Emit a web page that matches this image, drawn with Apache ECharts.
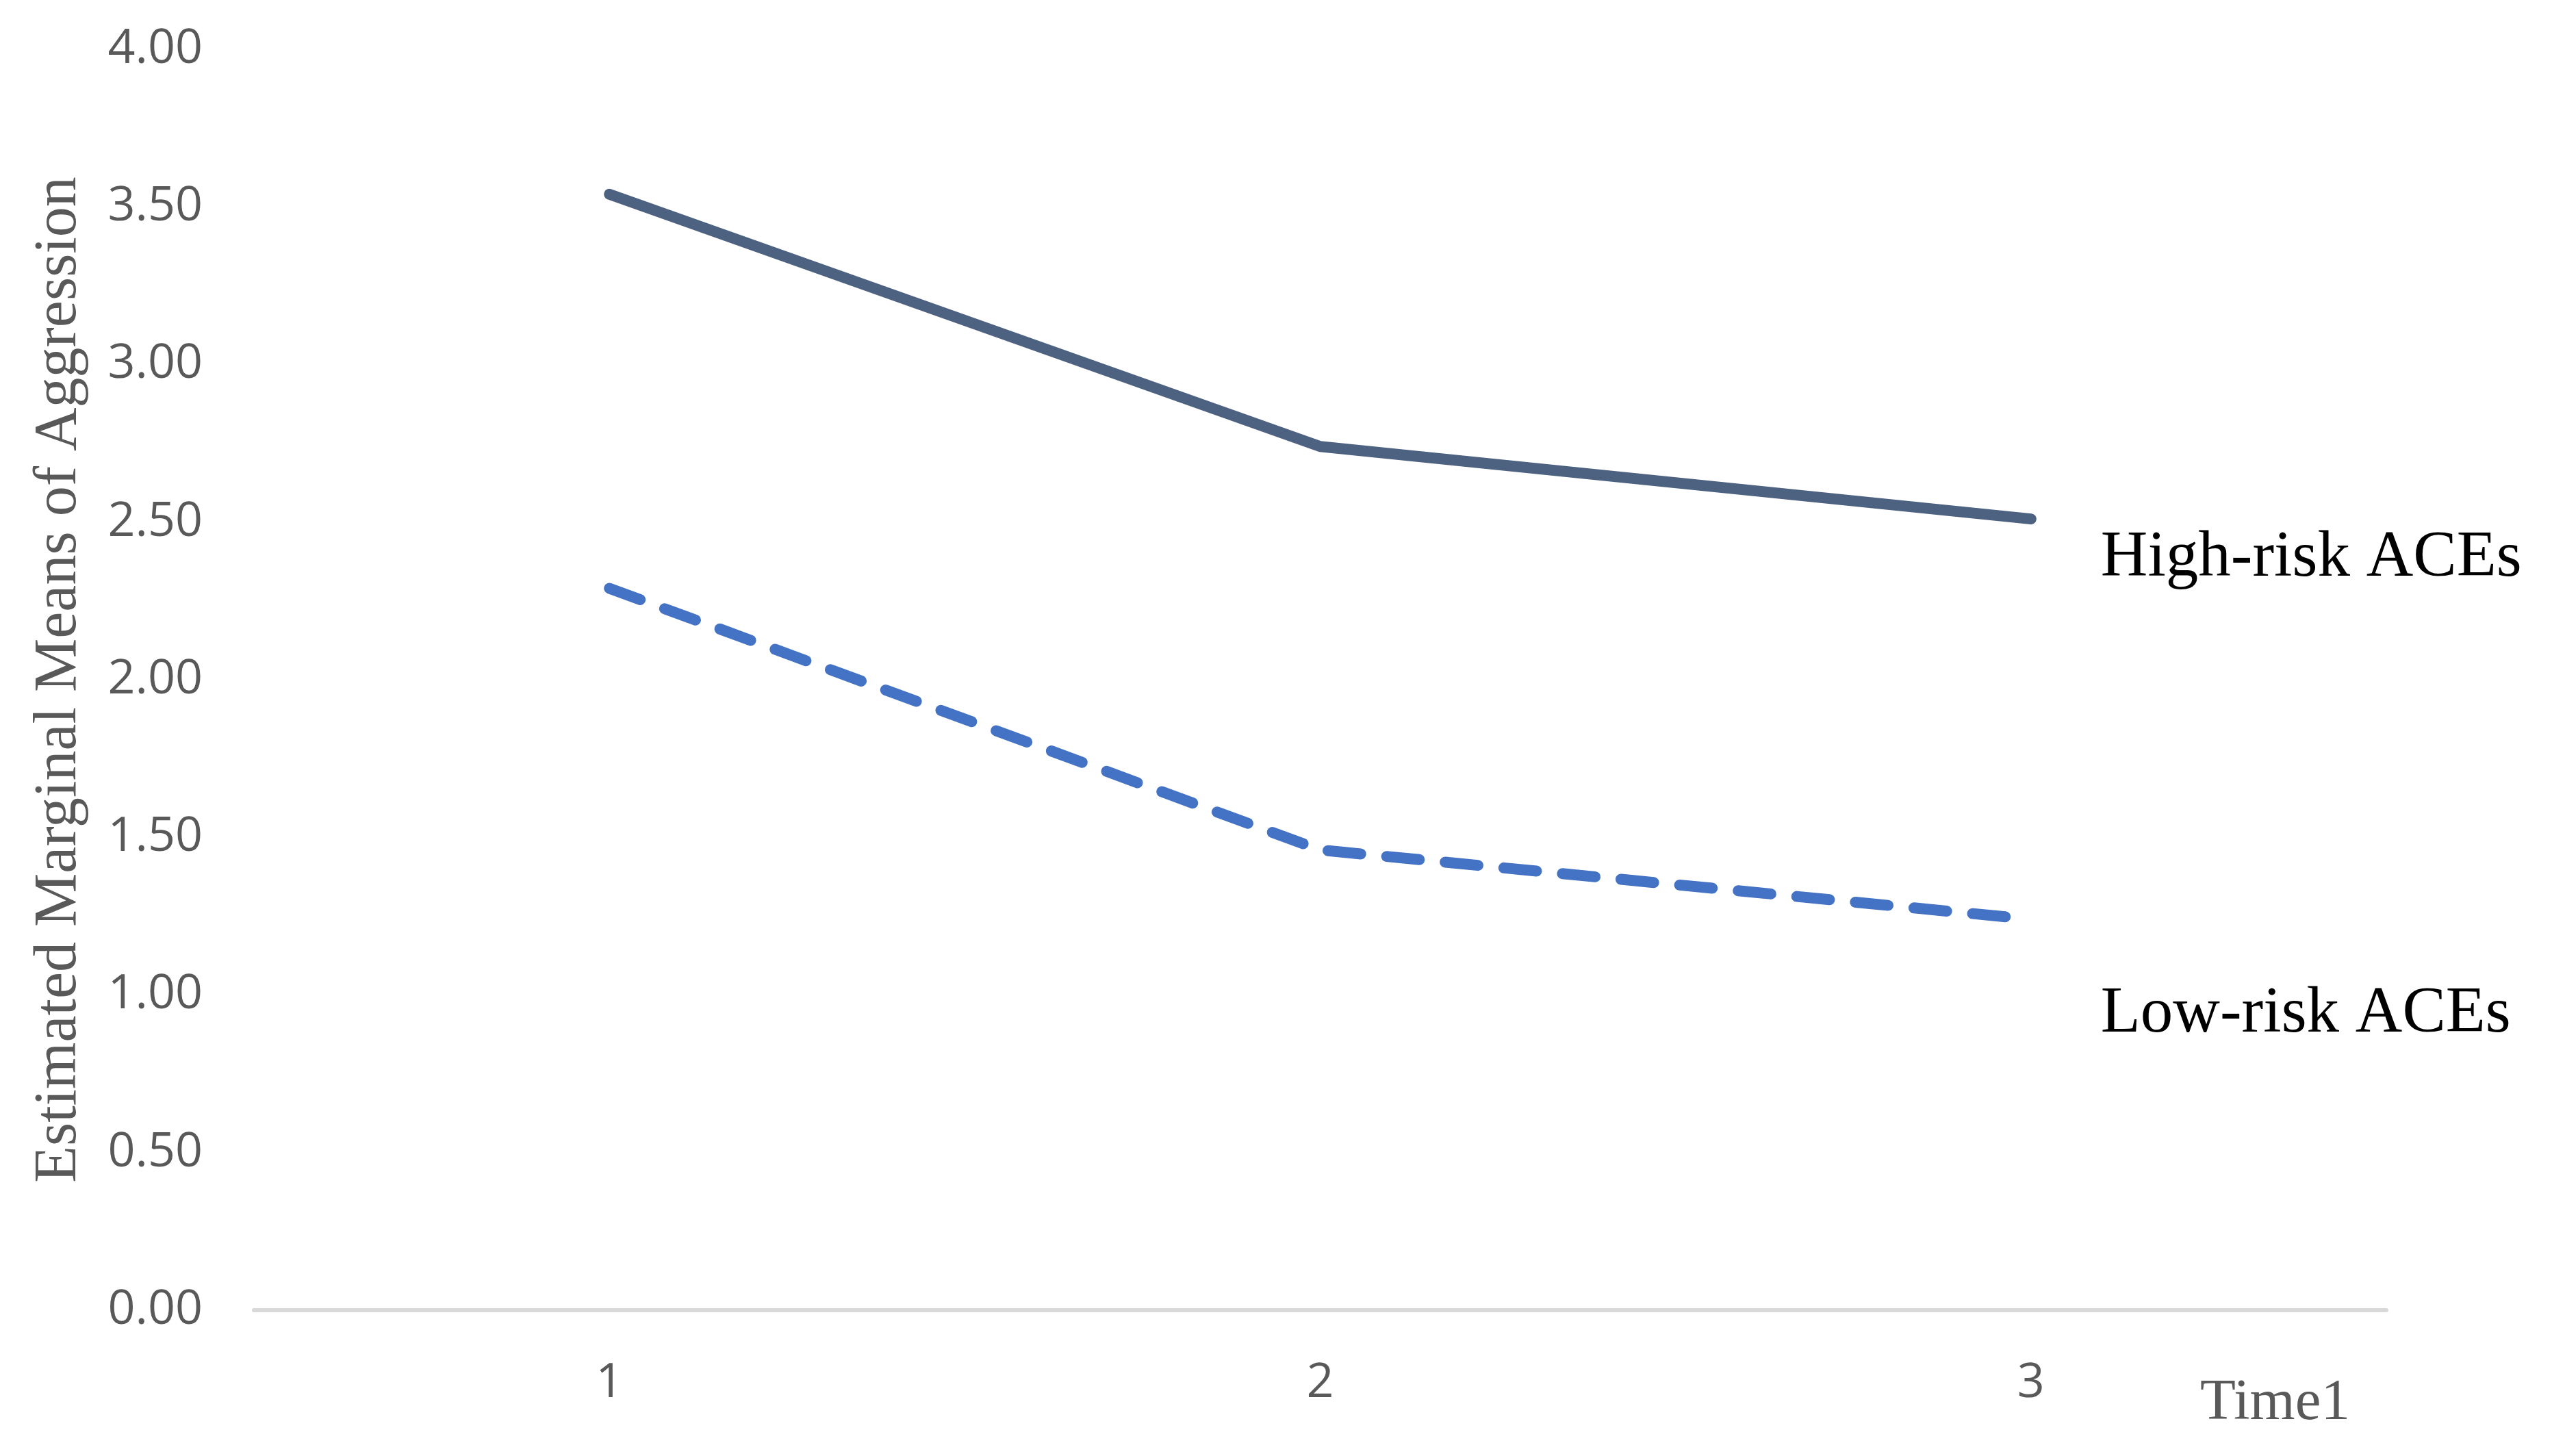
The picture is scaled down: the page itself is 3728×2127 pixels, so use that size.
<!DOCTYPE html>
<html>
<head>
<meta charset="utf-8">
<style>
  html, body { margin: 0; padding: 0; background: #ffffff; }
  #chart { width: 3728px; height: 2127px; }
</style>
<script src="https://cdn.jsdelivr.net/npm/echarts@6/dist/echarts.min.js"></script>
</head>
<body>
<div id="chart"></div>
<script>
const categories = ['1', '2', '3'];
const highRisk = [3.54, 2.74, 2.51];
const lowRisk = [2.29, 1.46, 1.24];
const seriesNames = ['High-risk ACEs', 'Low-risk ACEs'];
const yTitle = 'Estimated Marginal Means of Aggression';
const xTitle = 'Time1';

const chart = echarts.init(document.getElementById('chart'), null, { renderer: 'canvas' });

const serif = '"Liberation Serif", "Times New Roman", serif';
const sans = '"Open Sans", "Liberation Sans", sans-serif';

chart.setOption({
  animation: false,
  backgroundColor: '#ffffff',
  grid: { left: 371, right: 242, top: 72, bottom: 213, containLabel: false },
  graphic: [
    {
      type: 'text',
      left: 3214,
      top: 2008,
      style: { text: xTitle, font: '85px ' + serif, fill: '#595959' }
    }
  ],
  xAxis: {
    type: 'category',
    data: categories,
    boundaryGap: true,
    axisLine: { show: true, lineStyle: { color: '#d9d9d9', width: 6 } },
    axisTick: { show: false },
    axisLabel: { fontFamily: sans, fontSize: 70, color: '#595959', margin: 72 },
    splitLine: { show: false }
  },
  yAxis: {
    type: 'value',
    min: 0, max: 4, interval: 0.5,
    name: yTitle,
    nameLocation: 'middle',
    nameGap: 240,
    nameTextStyle: { fontFamily: serif, fontSize: 88, color: '#595959' },
    axisLine: { show: false },
    axisTick: { show: false },
    axisLabel: {
      fontFamily: sans, fontSize: 70, color: '#595959', margin: 75,
      formatter: v => v.toFixed(2)
    },
    splitLine: { show: false }
  },
  series: [
    {
      name: seriesNames[0],
      type: 'line',
      data: highRisk,
      symbol: 'none',
      lineStyle: { color: '#4d6180', width: 16, cap: 'round', join: 'round' },
      endLabel: {
        show: true,
        formatter: seriesNames[0],
        fontFamily: serif, fontSize: 95, color: '#000000',
        offset: [94, 58]
      }
    },
    {
      name: seriesNames[1],
      type: 'line',
      data: lowRisk,
      symbol: 'none',
      lineStyle: { color: '#4472c4', width: 16, type: [48, 38], cap: 'round', join: 'round' },
      endLabel: {
        show: true,
        formatter: seriesNames[1],
        fontFamily: serif, fontSize: 95, color: '#000000',
        offset: [94, 139]
      }
    }
  ]
});
</script>
</body>
</html>
